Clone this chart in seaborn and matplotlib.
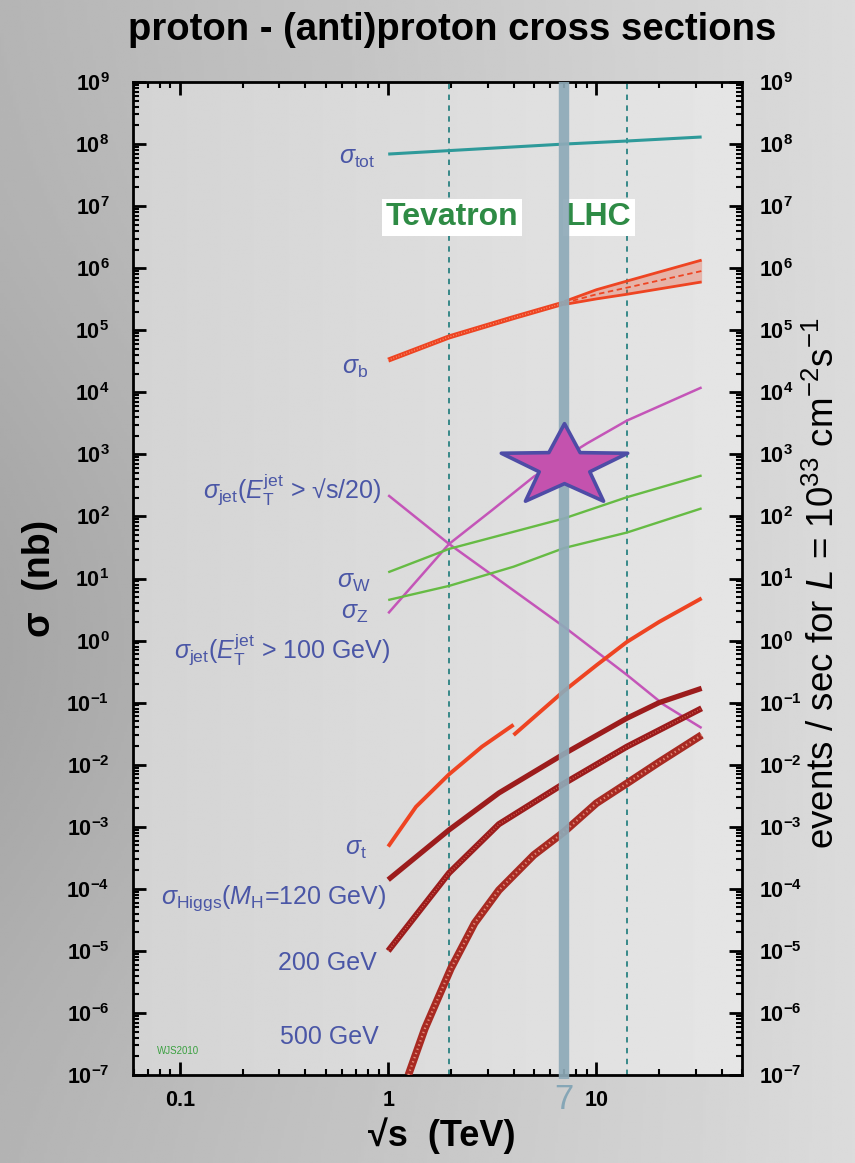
import numpy as np
import matplotlib
matplotlib.use("Agg")
import matplotlib.pyplot as plt
import seaborn as sns
from matplotlib.ticker import LogLocator, FixedLocator, FixedFormatter, FuncFormatter, NullFormatter
from matplotlib.path import Path

# ---------------- cross-section data (sigma in nb, sqrt(s) in TeV) ----------------
tot_x = [1, 7, 14, 32]
tot_y = [6.9e7, 1.0e8, 1.12e8, 1.3e8]

b_x = [1, 1.96, 4, 7]
b_y = [3.3e4, 7.8e4, 1.6e5, 2.75e5]
b_band_x = [7, 10, 14, 32]
b_band_hi = [2.9e5, 4.5e5, 6.2e5, 1.35e6]
b_band_lo = [2.6e5, 3.2e5, 3.8e5, 6.0e5]

jet20_x = [1, 1.96, 7, 14, 21, 32]
jet20_y = [220, 36, 1.66, 0.28, 0.093, 0.039]

jet100_x = [1, 1.96, 3.15, 5, 9, 14, 32]
jet100_y = [2.75, 36, 126, 437, 1500, 3500, 1.2e4]

w_x = [1, 1.96, 7, 14, 32]
w_y = [12.6, 30, 93, 204, 457]

z_x = [1, 1.96, 4, 7, 14, 32]
z_y = [4.5, 7.6, 15.5, 31, 55, 135]

top_ppbar_x = [1, 1.36, 1.96, 2.82, 4]
top_ppbar_y = [4.8e-4, 2.1e-3, 7.0e-3, 1.95e-2, 4.4e-2]
top_pp_x = [4, 7, 10, 14, 20, 32]
top_pp_y = [3.0e-2, 0.155, 0.40, 0.95, 2.0, 4.8]

h120_x = [1, 1.96, 3.4, 7, 14, 20, 32]
h120_y = [1.4e-4, 8.9e-4, 3.5e-3, 1.5e-2, 5.6e-2, 0.1, 0.17]

h200_x = [1, 1.96, 3.4, 7, 14, 32]
h200_y = [1.0e-5, 1.8e-4, 1.1e-3, 5.0e-3, 1.95e-2, 8.1e-2]

h500_x = [1.25, 1.5, 2, 2.6, 3.4, 5, 7, 10, 14, 20, 32]
h500_y = [1.0e-7, 5.6e-7, 5.2e-6, 2.8e-5, 9.5e-5, 3.5e-4, 8.3e-4, 2.4e-3, 5.0e-3, 1.1e-2, 3.0e-2]

tevatron_energy = 1.96
lhc_design_energy = 14
lhc_run_energy = 7
star_sigma = 660

x_ticks = [0.1, 1, 10]
x_ticklabels = ["0.1", "1", "10"]
y_decades = list(range(-7, 10))

# ---------------- styling ----------------
sns.set_theme(style="ticks")
plt.rcParams["font.family"] = ["Liberation Sans", "DejaVu Sans"]
plt.rcParams["text.color"] = "black"
plt.rcParams["mathtext.fontset"] = "custom"
plt.rcParams["mathtext.rm"] = "Liberation Sans"
plt.rcParams["mathtext.it"] = "Liberation Sans:italic"
plt.rcParams["mathtext.bf"] = "Liberation Sans:bold"
plt.rcParams["mathtext.sf"] = "Liberation Sans"

W, H = 855, 1163
fig = plt.figure(figsize=(W / 100, H / 100), dpi=100)

# slide background: grey gradient, darker towards the left
bg = fig.add_axes([0, 0, 1, 1], zorder=-10)
bg.axis("off")
u = np.linspace(0, 1, 300)
v = np.linspace(0, 1, 300)
U, V = np.meshgrid(u, v)
shade = 0.71 + 0.15 * U - 0.06 * np.exp(-((V - 0.55) / 0.3) ** 2) * (1 - U)
bg.imshow(shade, cmap="gray", vmin=0, vmax=1, extent=[0, 1, 0, 1], aspect="auto", origin="upper")

rect = [133 / W, 1 - 1075 / H, (742 - 133) / W, (1075 - 82) / H]
inner = fig.add_axes(rect, zorder=-5)
inner.axis("off")
inner.imshow(0.83 + 0.07 * U, cmap="gray", vmin=0, vmax=1, extent=[0, 1, 0, 1], aspect="auto")

ax = fig.add_axes(rect)
ax.set_facecolor("none")
ax.set_xscale("log")
ax.set_yscale("log")

blue_lbl = "#4a56a6"
red = "#ee4422"
dark_red = "#9c1c1c"
magenta = "#c455b8"
green = "#66bb44"
teal = "#2e9a9a"

def curve(x, y, color, lw, z=3):
    sns.lineplot(x=x, y=y, ax=ax, color=color, lw=lw, estimator=None, sort=False, zorder=z,
                 solid_capstyle="butt")

def texture(x, y, color, lw):
    ax.plot(x, y, color=color, lw=lw, ls=(0, (0.6, 1.4)), zorder=3.5, solid_capstyle="butt")

# curves
curve(tot_x, tot_y, teal, 2.2)
curve(b_x, b_y, red, 3.6)
texture(b_x, b_y, "#f79a7a", 1.0)
ax.fill_between(b_band_x, b_band_lo, b_band_hi, color=red, alpha=0.3, lw=0, zorder=2.5)
curve(b_band_x, b_band_hi, red, 2.0)
curve(b_band_x, b_band_lo, red, 2.0)
ax.plot(b_band_x, np.sqrt(np.array(b_band_hi) * np.array(b_band_lo)), color=red, lw=1.3,
        ls=(0, (3, 2)), zorder=3)

curve(jet20_x, jet20_y, magenta, 1.8)
curve(jet100_x, jet100_y, magenta, 1.8)
curve(w_x, w_y, green, 1.7)
curve(z_x, z_y, green, 1.7)

curve(top_ppbar_x, top_ppbar_y, red, 2.8)
curve(top_pp_x, top_pp_y, red, 2.8)

curve(h120_x, h120_y, dark_red, 3.8)
curve(h200_x, h200_y, dark_red, 4.4)
texture(h200_x, h200_y, "#d86a5a", 1.0)
curve(h500_x, h500_y, "#a82a22", 5.5)
texture(h500_x, h500_y, "#e28a78", 1.6)

# collider energies
for e in (tevatron_energy, lhc_design_energy):
    ax.axvline(e, color="#2a8282", lw=1.3, ls=(0, (3, 3)), zorder=2)
ax.axvline(lhc_run_energy, ymin=-0.004, ymax=1.0, color="#8eaab8", lw=7.5, alpha=0.92,
           zorder=5, clip_on=False, solid_capstyle="butt")

# highlight star (wider than tall)
ang = np.pi / 2 + np.arange(10) * np.pi / 5
rad = np.where(np.arange(10) % 2 == 0, 1.0, 0.40)
star = np.column_stack([1.55 * rad * np.cos(ang), rad * np.sin(ang)])
star_marker = Path(np.vstack([star, star[:1]]), closed=True)
ax.plot([lhc_run_energy], [star_sigma], marker=star_marker, ms=91, mfc="#c452ae",
        mec="#4e4ca6", mew=2.6, ls="none", zorder=6, clip_on=False)

# axes limits and ticks
def decade_label(val, pos):
    return r"$\mathbf{10}^{\mathbf{%d}}$" % int(round(np.log10(val)))

ax.set_xlim(0.0595, 50)
ax.set_ylim(1e-7, 1e9)
ax.xaxis.set_major_locator(FixedLocator(x_ticks))
ax.xaxis.set_major_formatter(FixedFormatter(x_ticklabels))
ax.xaxis.set_minor_locator(LogLocator(base=10, subs=np.arange(2, 10), numticks=50))
ax.xaxis.set_minor_formatter(NullFormatter())
ax.yaxis.set_major_locator(FixedLocator([10.0 ** k for k in y_decades]))
ax.yaxis.set_major_formatter(FuncFormatter(decade_label))
ax.yaxis.set_minor_locator(LogLocator(base=10, subs=np.arange(2, 10), numticks=50))
ax.yaxis.set_minor_formatter(NullFormatter())

ax.tick_params(which="both", direction="in", top=True, right=True, labelright=False,
               colors="black")
ax.tick_params(which="major", length=9.5, width=2.0, labelsize=15.5)
ax.tick_params(which="minor", length=4.5, width=1.5)
ax.tick_params(axis="y", which="major", pad=17)
ax.tick_params(axis="x", which="major", pad=11)
for lbl in ax.get_xticklabels():
    lbl.set_fontweight("bold")
for sp in ax.spines.values():
    sp.set_linewidth(2.0)
    sp.set_color("black")

# right-hand rate axis (events/sec at L = 1e33 equals sigma in nb)
ax2 = ax.twinx()
ax2.set_yscale("log")
ax2.set_ylim(ax.get_ylim())
ax2.yaxis.set_major_locator(FixedLocator([10.0 ** k for k in y_decades]))
ax2.yaxis.set_major_formatter(FuncFormatter(decade_label))
ax2.yaxis.set_minor_locator(LogLocator(base=10, subs=np.arange(2, 10), numticks=50))
ax2.yaxis.set_minor_formatter(NullFormatter())
ax2.tick_params(which="both", direction="in", colors="black")
ax2.tick_params(which="major", length=9.5, width=2.0, labelsize=15.5, pad=12)
ax2.tick_params(which="minor", length=4.5, width=1.5)
for sp in ax2.spines.values():
    sp.set_visible(False)

ax.text(lhc_run_energy, -0.025, "7", transform=ax.get_xaxis_transform(), ha="center",
        va="center", fontsize=25, color="#86a6b6", zorder=7)

# curve labels
lbl_kw = dict(color=blue_lbl, fontsize=18, ha="right", va="center", zorder=7)
ax.text(0.87, 6.0e7, r"$\sigma_{\rm tot}$", **lbl_kw)
ax.text(0.80, 2.45e4, r"$\sigma_{\rm b}$", **lbl_kw)
ax.text(0.93, 270, r"$\sigma_{\rm jet}(E_{\rm T}^{\rm jet}$ > √s/20)", **lbl_kw)
ax.text(0.82, 8.7, r"$\sigma_{\rm W}$", **lbl_kw)
ax.text(0.80, 2.75, r"$\sigma_{\rm Z}$", **lbl_kw)
ax.text(1.02, 0.71, r"$\sigma_{\rm jet}(E_{\rm T}^{\rm jet}$ > 100 GeV)", **lbl_kw)
ax.text(0.79, 4.3e-4, r"$\sigma_{\rm t}$", **lbl_kw)
ax.text(0.98, 7.1e-5, r"$\sigma_{\rm Higgs}(M_{\rm H}$=120 GeV)", **lbl_kw)
ax.text(0.88, 6.3e-6, "200 GeV", **lbl_kw)
ax.text(0.90, 4.1e-7, "500 GeV", **lbl_kw)
ax.text(0.0775, 2.4e-7, "WJS2010", color="#3aa040", fontsize=7, ha="left", va="center")

# collider name tags
tag_kw = dict(color="#2e8b45", fontsize=23, fontweight="bold", ha="center", va="center",
              transform=ax.get_xaxis_transform(), zorder=4,
              bbox=dict(facecolor="white", edgecolor="none", pad=2.5))
ax.text(2.03, 0.864, "Tevatron", **tag_kw)
ax.text(10.3, 0.864, "LHC", **tag_kw)

# titles and axis labels
fig.text(452 / W, 1 - 30 / H, "proton - (anti)proton cross sections", fontsize=27.5,
         fontweight="bold", ha="center", va="center", color="black")
fig.text(442 / W, 1 - 1136 / H, "√s  (TeV)", fontsize=26, fontweight="bold",
         ha="center", va="center", color="black")
fig.text(40 / W, 1 - 578 / H, "σ  (nb)", fontsize=27, fontweight="bold", rotation=90,
         ha="center", va="center", color="black")
fig.text(824 / W, 1 - 583 / H,
         r"events / sec for $L$ = 10$^{33}$ cm$^{-2}$s$^{-1}$",
         fontsize=26.5, rotation=90, ha="center", va="center", color="black")

fig.savefig("out.png", dpi=100)
